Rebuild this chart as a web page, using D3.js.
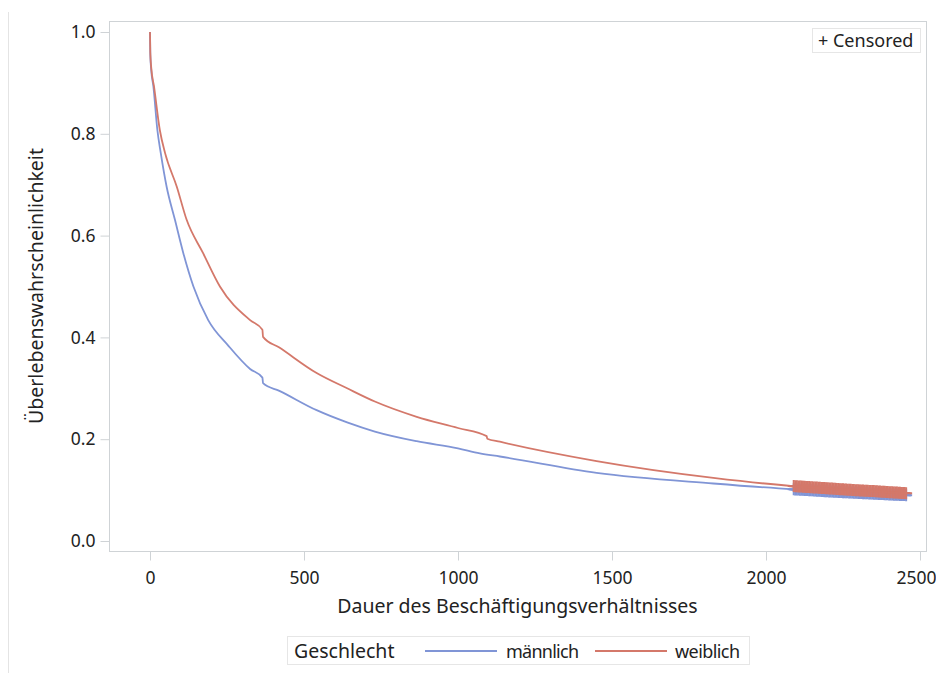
<!DOCTYPE html>
<html>
<head>
<meta charset="utf-8">
<script src="https://cdn.jsdelivr.net/npm/d3@7"></script>
<style>
  body { margin: 0; background: #fff; }
  text { font-family: "Noto Sans", "Open Sans", sans-serif; fill: #222; }
</style>
</head>
<body>
<svg id="svg"></svg>
<script>
// ****************************************
// Data

var groups = ['männlich', 'weiblich'];
var group_colors = ['#8095d6', '#d4786a'];

// Kaplan-Meier estimates: [time, survival]
var male_time = [0, 1, 4, 11, 24, 35, 54, 81, 108, 141, 189, 254, 325, 365, 367, 420, 541, 640, 730, 866, 1000, 1071, 1136, 1450, 1829, 2088, 2150, 2200, 2250, 2300, 2350, 2400, 2455, 2470];
var male_surv = [1.0, 0.955, 0.925, 0.893, 0.807, 0.762, 0.696, 0.631, 0.566, 0.50, 0.434, 0.384, 0.338, 0.321, 0.310, 0.295, 0.257, 0.233, 0.215, 0.196, 0.182, 0.172, 0.166, 0.134, 0.113, 0.1016, 0.0995, 0.0975, 0.096, 0.0945, 0.093, 0.0915, 0.090, 0.089];

var female_time = [0, 1, 4, 13, 32, 49, 87, 119, 172, 227, 325, 365, 367, 420, 541, 640, 730, 866, 1000, 1093, 1095, 1136, 1450, 1829, 2088, 2150, 2200, 2250, 2300, 2350, 2400, 2455, 2470];
var female_surv = [1.0, 0.96, 0.93, 0.893, 0.807, 0.762, 0.696, 0.631, 0.566, 0.50, 0.434, 0.415, 0.401, 0.38, 0.33, 0.30, 0.274, 0.244, 0.222, 0.206, 0.201, 0.195, 0.157, 0.124, 0.108, 0.1055, 0.1035, 0.1015, 0.0995, 0.098, 0.096, 0.094, 0.092];

// censoring times (both groups)
var censor_times = [2090, 2095, 2100, 2105, 2110, 2115, 2120, 2125, 2130, 2135, 2140, 2145, 2150, 2155, 2160, 2165, 2170, 2175, 2180, 2185, 2190, 2195, 2200, 2205, 2210, 2215, 2220, 2225, 2230, 2235, 2240, 2245, 2250, 2255, 2260, 2265, 2270, 2275, 2280, 2285, 2290, 2295, 2300, 2305, 2310, 2315, 2320, 2325, 2330, 2335, 2340, 2345, 2350, 2355, 2360, 2365, 2370, 2375, 2380, 2385, 2390, 2395, 2400, 2405, 2410, 2415, 2420, 2425, 2430, 2435, 2440, 2445, 2450, 2455];

var x_ticks = [0, 500, 1000, 1500, 2000, 2500];
var y_ticks = [0.0, 0.2, 0.4, 0.6, 0.8, 1.0];

// ****************************************
// Canvas

var width = 936, height = 673;
var frame = { left: 109, right: 926, top: 21, bottom: 551 };

var svg = d3.select('#svg').attr('width', width).attr('height', height);

var x = d3.scaleLinear().domain([0, 2500]).range([150, 920]);
var y = d3.scaleLinear().domain([0, 1]).range([541, 32]);

var grey = '#cfd3d6';

// outer left rule
svg.append('line').attr('x1', 8.5).attr('x2', 8.5).attr('y1', 12).attr('y2', height).style('stroke', '#e4e4e4').style('stroke-width', 1);

// plot frame
svg.append('rect')
  .attr('x', frame.left + 0.5).attr('y', frame.top + 0.5)
  .attr('width', frame.right - frame.left).attr('height', frame.bottom - frame.top)
  .style('fill', 'none').style('stroke', grey).style('stroke-width', 1);

// ****************************************
// Axes

var x_axis = svg.append('g').attr('transform', 'translate(0,' + (frame.bottom + 0.5) + ')')
  .call(d3.axisBottom(x).tickValues(x_ticks).tickSize(9).tickPadding(11).tickFormat(d3.format('d')));
var y_axis = svg.append('g').attr('transform', 'translate(' + (frame.left + 0.5) + ',0)')
  .call(d3.axisLeft(y).tickValues(y_ticks).tickSize(9).tickPadding(5).tickFormat(d3.format('.1f')));

[x_axis, y_axis].forEach(function(a){
  a.select('.domain').remove();
  a.selectAll('.tick line').style('stroke', grey);
  a.selectAll('.tick text').style('font-size', '17.5px').style('fill', '#222').style('font-family', '"Noto Sans", sans-serif');
});
// keep the last label inside the page
x_axis.selectAll('.tick text').filter(function(d){ return d === 2500; }).attr('dx', -4);

svg.append('text').attr('x', (frame.left + frame.right) / 2).attr('y', 613)
  .attr('text-anchor', 'middle').style('font-size', '19.5px').text('Dauer des Beschäftigungsverhältnisses');

svg.append('text').attr('transform', 'translate(43,' + ((frame.top + frame.bottom) / 2) + ') rotate(-90)')
  .attr('text-anchor', 'middle').style('font-size', '19.5px').text('Überlebenswahrscheinlichkeit');

// ****************************************
// Curves

var series = [
  d3.zip(male_time, male_surv),
  d3.zip(female_time, female_surv)
];

var line = d3.line().curve(d3.curveMonotoneX).x(function(d){ return x(d[0]); }).y(function(d){ return y(d[1]); });

var bisect = d3.bisector(function(d){ return d[0]; }).right;

// survival value on the drawn line at time t
function value_at(s, t){
  var i = Math.min(s.length - 1, Math.max(1, bisect(s, t)));
  var a = s[i - 1], b = s[i];
  return a[1] + (b[1] - a[1]) * (t - a[0]) / (b[0] - a[0]);
}

series.forEach(function(s, i){
  svg.append('path').datum(s).attr('d', line)
    .style('fill', 'none').style('stroke', group_colors[i]).style('stroke-width', 1.8);
});

// censored markers (plus signs), males first then females on top
series.forEach(function(s, i){
  var g = svg.append('g');
  censor_times.forEach(function(t){
    var cx = x(t), cy = y(value_at(s, t));
    g.append('path')
      .attr('d', 'M' + (cx - 6) + ',' + cy + 'H' + (cx + 6) + 'M' + cx + ',' + (cy - 6) + 'V' + (cy + 6))
      .style('stroke', group_colors[i]).style('stroke-width', 2).style('fill', 'none');
  });
});

// ****************************************
// Legends

var cens = svg.append('g');
cens.append('rect').attr('x', 812.5).attr('y', 28.5).attr('width', 108).attr('height', 24)
  .style('fill', '#fff').style('stroke', '#e6e6e6');
cens.append('text').attr('x', 818).attr('y', 47).style('font-size', '18px').text('+ Censored');

var leg = svg.append('g');
leg.append('rect').attr('x', 287.5).attr('y', 636.5).attr('width', 462).attr('height', 28)
  .style('fill', '#fff').style('stroke', '#e6e6e6');
leg.append('text').attr('x', 294).attr('y', 658).style('font-size', '19.5px').text('Geschlecht');

var leg_line_x = [425, 595];
var leg_text_x = [506, 675];
groups.forEach(function(name, i){
  leg.append('line').attr('x1', leg_line_x[i]).attr('x2', leg_line_x[i] + 72).attr('y1', 651).attr('y2', 651)
    .style('stroke', group_colors[i]).style('stroke-width', 1.8);
  leg.append('text').attr('x', leg_text_x[i]).attr('y', 658).attr('textLength', i === 0 ? 73 : 65)
    .style('font-size', '18px').text(name);
});
</script>
</body>
</html>
